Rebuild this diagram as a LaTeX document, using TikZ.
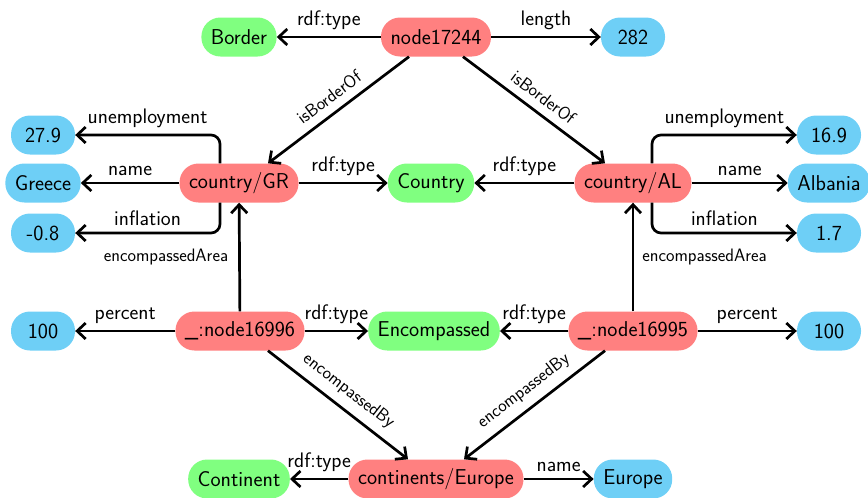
\documentclass[tikz,border=0pt]{standalone}
\usetikzlibrary{arrows.meta,calc}
\definecolor{rnode}{RGB}{255,128,128}
\definecolor{gnode}{RGB}{128,255,128}
\definecolor{bnode}{RGB}{110,207,246}
\tikzset{
  base/.style={rectangle, rounded corners=19pt, minimum height=39pt, inner xsep=9.5pt, inner ysep=0pt, text=black},
  res/.style={base, fill=rnode},
  cls/.style={base, fill=gnode},
  lit/.style={base, fill=bnode, minimum width=64pt},
  arr/.style={line width=2.7pt, -{Straight Barb[length=8.5pt,width=16pt]}},
  lbl/.style={above=6pt, inner sep=0pt, font=\sffamily\fontsize{21}{24}\selectfont},
  slbl/.style={font=\sffamily\fontsize{18}{21}\selectfont, inner sep=0pt},
  sloplbl/.style={slbl, midway, sloped, above=8pt}
}
\begin{document}
\begin{tikzpicture}[x=1pt,y=-1pt, font=\sffamily\fontsize{21.5}{24}\selectfont]
\useasboundingbox (0,0) rectangle (868,498);
% nodes
\node[res] (n17244) at (436,37) {node17244};
\node[cls] (border) at (239,37) {Border};
\node[lit] (l282) at (633,37) {282};
\node[res] (gr) at (239,183) {country/GR};
\node[cls] (country) at (431,183) {Country};
\node[res] (al) at (633,183) {country/AL};
\node[lit] (g279) at (43,135) {27.9};
\node[lit] (greece) at (43,183) {Greece};
\node[lit] (gm08) at (43,233) {-0.8};
\node[lit] (a169) at (829,135) {16.9};
\node[lit] (albania) at (829,183) {Albania};
\node[lit] (a17) at (829,233) {1.7};
\node[res] (n16996) at (240,331) {\_:node16996};
\node[cls] (encomp) at (434,331) {Encompassed};
\node[res] (n16995) at (633,331) {\_:node16995};
\node[lit] (p100l) at (43,331) {100};
\node[lit] (p100r) at (829,331) {100};
\node[res] (europe) at (436,479) {continents/Europe};
\node[cls] (continent) at (239,479) {Continent};
\node[lit] (europel) at (633,479) {Europe};
% edges
\draw[arr] (n17244) -- node[lbl]{rdf:type} (border);
\draw[arr] (n17244) -- node[lbl]{length} (l282);
\draw[arr] ([xshift=-27pt]n17244.south) -- node[sloplbl]{isBorderOf} ([xshift=29pt]gr.north);
\draw[arr] ([xshift=27pt]n17244.south) -- node[sloplbl]{isBorderOf} ([xshift=-28pt]al.north);
\draw[arr] (gr) -- node[lbl]{rdf:type} (country);
\draw[arr] (al) -- node[lbl]{rdf:type} (country);
\draw[arr, rounded corners=9pt] ([xshift=-19pt]gr.north) |- node[lbl, pos=0.75]{unemployment} (g279);
\draw[arr] (gr) -- node[lbl]{name} (greece);
\draw[arr, rounded corners=9pt] ([xshift=-19pt]gr.south) |- node[lbl, pos=0.75]{inflation} (gm08);
\draw[arr, rounded corners=9pt] ([xshift=19pt]al.north) |- node[lbl, pos=0.75]{unemployment} (a169);
\draw[arr] (al) -- node[lbl]{name} (albania);
\draw[arr, rounded corners=9pt] ([xshift=19pt]al.south) |- node[lbl, pos=0.75]{inflation} (a17);
\draw[arr] (n16996) -- node[slbl, left=10pt]{encompassedArea} (gr);
\draw[arr] (n16995) -- node[slbl, right=8pt]{encompassedArea} (al);
\draw[arr] (n16996) -- node[lbl]{percent} (p100l);
\draw[arr] (n16996) -- node[lbl]{rdf:type} (encomp);
\draw[arr] (n16995) -- node[lbl]{rdf:type} (encomp);
\draw[arr] (n16995) -- node[lbl]{percent} (p100r);
\draw[arr] ([xshift=28pt]n16996.south) -- node[sloplbl]{encompassedBy} ([xshift=-28pt]europe.north);
\draw[arr] ([xshift=-28pt]n16995.south) -- node[sloplbl]{encompassedBy} ([xshift=28pt]europe.north);
\draw[arr] (europe) -- node[lbl]{rdf:type} (continent);
\draw[arr] (europe) -- node[lbl]{name} (europel);
\end{tikzpicture}
\end{document}
